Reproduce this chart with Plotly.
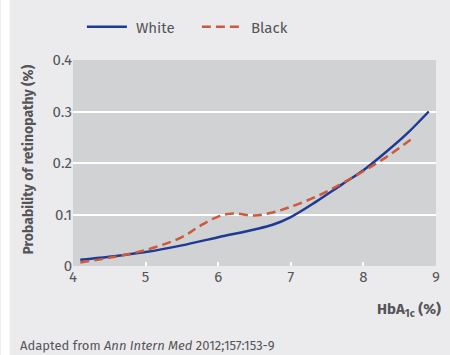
import plotly.graph_objects as go

# HbA1c (%) values and probability of retinopathy
white_x = [4.1, 4.5, 5.0, 5.5, 6.0, 6.5, 6.75, 7.0, 7.35, 7.7, 8.0, 8.3, 8.6, 8.9]
white_y = [0.012, 0.018, 0.027, 0.040, 0.056, 0.071, 0.080, 0.095, 0.125, 0.158, 0.186, 0.220, 0.257, 0.300]

black_x = [4.1, 4.5, 5.0, 5.5, 5.75, 6.0, 6.2, 6.5, 6.75, 7.0, 7.37, 7.7, 8.0, 8.3, 8.65]
black_y = [0.007, 0.016, 0.031, 0.056, 0.078, 0.096, 0.102, 0.098, 0.104, 0.115, 0.136, 0.160, 0.184, 0.210, 0.245]

x_ticks = [4, 5, 6, 7, 8, 9]
y_ticks = [0, 0.1, 0.2, 0.3, 0.4]
y_tick_text = ["0", "0.1", "0.2", "0.3", "0.4"]

FONT = "Fira Sans, Lato, Open Sans, sans-serif"
TXT = "#555559"
NB = "\u00a0"

fig = go.Figure()
fig.add_trace(go.Scatter(x=white_x, y=white_y, mode="lines", name=NB + "White",
                         line=dict(color="#1f3a93", width=2.5, shape="spline")))
fig.add_trace(go.Scatter(x=black_x, y=black_y, mode="lines", name=NB + "Black",
                         line=dict(color="#cc5a3c", width=2.5, dash="9px,5px", shape="spline")))

L, R, T, B = 73, 10, 60, 89
W, H = 450, 355
pw, ph = W - L - R, H - T - B

fig.update_layout(
    width=W, height=H,
    margin=dict(l=L, r=R, t=T, b=B),
    paper_bgcolor="#ebebed",
    plot_bgcolor="#d1d2d4",
    font=dict(family=FONT, color=TXT, size=14),
    showlegend=True,
    legend=dict(orientation="h", x=(82 - L) / pw, y=1 + (T - 27) / ph,
                xanchor="left", yanchor="middle",
                bgcolor="rgba(0,0,0,0)", font=dict(size=15, color=TXT),
                entrywidth=60, entrywidthmode="pixels",
                itemwidth=40, tracegroupgap=0),
    xaxis=dict(range=[4, 9], tickvals=x_ticks, showgrid=False, zeroline=False,
               ticks="inside", tickcolor="white", ticklen=4, tickwidth=2,
               tickfont=dict(size=15, color=TXT), showline=False, fixedrange=True),
    yaxis=dict(range=[0, 0.4], tickvals=y_ticks, ticktext=y_tick_text,
               showgrid=True, gridcolor="white", gridwidth=2, zeroline=False,
               ticks="", tickfont=dict(size=15, color=TXT), showline=False,
               fixedrange=True),
    shapes=[dict(type="rect", xref="paper", yref="paper",
                 x0=(0 - L) / pw, x1=(9 - L) / pw, y0=-(H - T - ph) / ph - 0.01,
                 y1=1 + T / ph + 0.01, fillcolor="white", line=dict(width=0),
                 layer="below")],
    annotations=[
        dict(text="<b>Probability of retinopathy (%)</b>", textangle=-90,
             xref="paper", yref="paper", x=(27 - L) / pw, y=1 - (160 - T) / ph,
             xanchor="center", yanchor="middle", showarrow=False,
             font=dict(size=14, color=TXT)),
        dict(text="<b>HbA<sub>1c</sub> (%)</b>", xref="paper", yref="paper",
             x=(447 - L) / pw, y=-(310 - T - ph) / ph,
             xanchor="right", yanchor="middle", showarrow=False,
             font=dict(size=15, color=TXT)),
        dict(text="Adapted from <i>Ann Intern Med</i> 2012;157:153-9",
             xref="paper", yref="paper", x=(17 - L) / pw, y=-(345 - T - ph) / ph,
             xanchor="left", yanchor="middle", showarrow=False,
             font=dict(size=13, color=TXT)),
    ],
)

fig.write_html("out.html", config={"displayModeBar": False},
               post_script="document.body.style.margin='0';document.body.style.overflow='hidden';")
